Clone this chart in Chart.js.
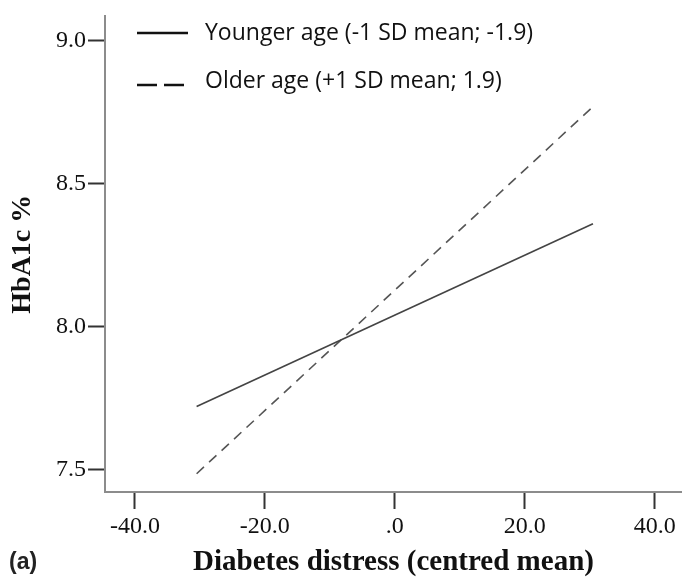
<!DOCTYPE html>
<html>
<head>
<meta charset="utf-8">
<script src="https://cdn.jsdelivr.net/npm/chart.js@4.4.1/dist/chart.umd.min.js"></script>
<style>
  html, body { margin: 0; padding: 0; background: #fff; }
  #wrap { width: 682px; height: 583px; position: relative; }
</style>
</head>
<body>
<div id="wrap"><canvas id="myChart"></canvas></div>
<script>
// data
const distress = [-30.5, 30.5];
const youngerHba1c = [7.72, 8.36];
const olderHba1c = [7.485, 8.77];
const xTicks = [-40, -20, 0, 20, 40];
const yTicks = [7.5, 8.0, 8.5, 9.0];
const seriesNames = ['Younger age (-1 SD mean; -1.9)', 'Older age (+1 SD mean; 1.9)'];
const panelLabel = '(a)';

let ctx = document.getElementById('myChart');

function toPoints(xs, ys) {
    return xs.map(function (x, i) { return { x: x, y: ys[i] }; });
}

// legend drawn inside the plot, top left, like the original
const legendInside = {
    id: 'legendInside',
    afterDraw(chart) {
        const c = chart.ctx;
        c.save();
        const lineY = [33, 85];
        const textY = [33, 81];
        chart.data.datasets.forEach(function (ds, i) {
            c.strokeStyle = '#111';
            c.lineWidth = 2.5;
            c.setLineDash(i === 0 ? [] : [20, 7]);
            c.beginPath();
            c.moveTo(137, lineY[i]);
            c.lineTo(188, lineY[i]);
            c.stroke();
            c.setLineDash([]);
            c.fillStyle = '#111';
            c.font = '23px "Open Sans"';
            c.textBaseline = 'middle';
            c.textAlign = 'left';
            c.fillText(ds.label, 205, textY[i]);
        });
        c.font = 'bold 23px "Liberation Sans"';
        c.fillStyle = '#222';
        c.fillText(panelLabel, 9, 563);
        c.restore();
    }
};

let myChart = new Chart(ctx, {
    type: 'scatter',
    data: {
        datasets: [{
            label: seriesNames[0],
            data: toPoints(distress, youngerHba1c),
            showLine: true,
            borderColor: '#444',
            borderWidth: 1.6,
            pointRadius: 0
        }, {
            label: seriesNames[1],
            data: toPoints(distress, olderHba1c),
            showLine: true,
            borderColor: '#555',
            borderWidth: 1.6,
            borderDash: [10, 7],
            pointRadius: 0
        }]
    },
    options: {
        responsive: true,
        maintainAspectRatio: false,
        animation: false,
        layout: { padding: { top: 8, right: 0, bottom: 0, left: 0 } },
        plugins: {
            legend: { display: false },
            tooltip: { enabled: false }
        },
        scales: {
            x: {
                type: 'linear',
                min: -44.6,
                max: 44.2,
                afterBuildTicks: function (s) { s.ticks = xTicks.map(function (v) { return { value: v }; }); },
                afterFit: function (s) { s.height = 91; },
                border: { display: true, color: '#8c8c8c', width: 2 },
                grid: { drawOnChartArea: false, drawTicks: true, tickLength: 17, tickWidth: 2, color: '#333' },
                ticks: {
                    padding: 3,
                    color: '#111',
                    font: { family: '"Liberation Serif"', size: 24 },
                    maxRotation: 0,
                    callback: function (v) { return v === 0 ? '.0' : v.toFixed(1); }
                },
                title: {
                    display: true,
                    text: 'Diabetes distress (centred mean)',
                    color: '#111',
                    font: { family: '"Liberation Serif"', size: 29, weight: 'bold' },
                    padding: { top: 0, bottom: 3 }
                }
            },
            y: {
                type: 'linear',
                min: 7.421,
                max: 9.086,
                afterBuildTicks: function (s) { s.ticks = yTicks.map(function (v) { return { value: v }; }); },
                afterFit: function (s) { s.width = 105; },
                border: { display: true, color: '#8c8c8c', width: 2 },
                grid: { drawOnChartArea: false, drawTicks: true, tickLength: 17, tickWidth: 2, color: '#333' },
                ticks: {
                    padding: 2,
                    color: '#111',
                    font: { family: '"Liberation Serif"', size: 24 },
                    callback: function (v) { return v.toFixed(1); }
                },
                title: {
                    display: true,
                    text: 'HbA1c %',
                    color: '#111',
                    font: { family: '"Liberation Serif"', size: 28, weight: 'bold' },
                    padding: { top: 6, bottom: 0 }
                }
            }
        }
    },
    plugins: [legendInside]
});
</script>
</body>
</html>
